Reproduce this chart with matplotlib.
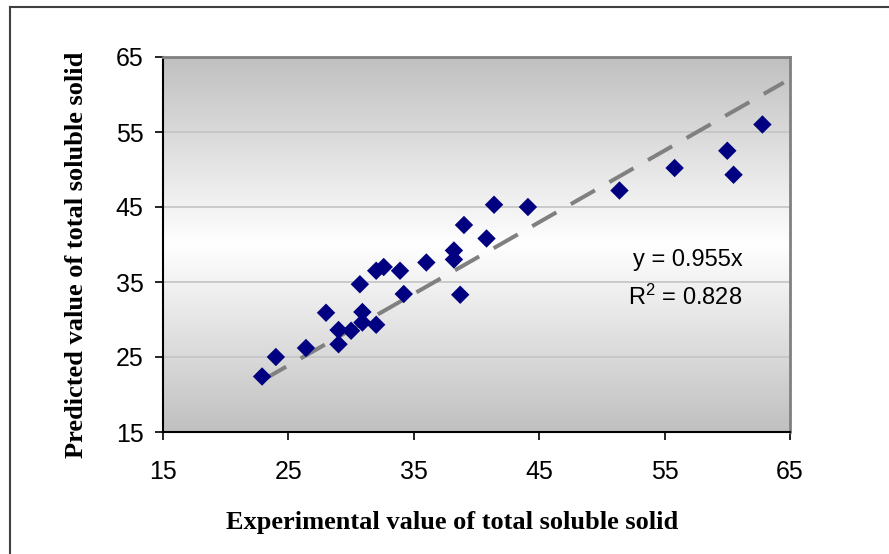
import numpy as np
import matplotlib.pyplot as plt
from matplotlib.lines import Line2D
from matplotlib.colors import LinearSegmentedColormap

# ---- data: experimental vs predicted total soluble solid ----
experimental = [22.9, 24.0, 26.4, 28.0, 29.0, 29.0, 30.0, 30.7, 30.9, 30.9,
                32.0, 32.0, 32.6, 33.9, 34.2, 36.0, 38.2, 38.2, 38.7, 39.0,
                40.8, 41.4, 44.1, 51.4, 55.8, 60.0, 60.5, 62.8]
predicted = [22.4, 25.0, 26.2, 30.9, 28.6, 26.7, 28.5, 34.7, 31.0, 29.6,
             29.3, 36.5, 37.0, 36.5, 33.4, 37.6, 39.2, 38.0, 33.3, 42.6,
             40.8, 45.3, 45.0, 47.2, 50.2, 52.5, 49.3, 56.0]
slope = 0.955
r_squared = 0.828
trend_end = 64.5
ticks = [15, 25, 35, 45, 55, 65]

plt.rcParams['mathtext.fontset'] = 'custom'
plt.rcParams['mathtext.rm'] = 'Liberation Sans'
plt.rcParams['mathtext.it'] = 'Liberation Sans'

fig = plt.figure(figsize=(8.89, 5.54), dpi=100)
ax = fig.add_axes([163/889, 1 - 432/554, 627/889, 375/554])

# gray -> white -> gray background fill
grad = LinearSegmentedColormap.from_list('bg', ['#c0c0c0', '#ffffff', '#c0c0c0'])
ax.imshow(np.linspace(0, 1, 256).reshape(-1, 1), cmap=grad, aspect='auto',
          extent=[15, 65, 15, 65], zorder=0)

for yv in ticks[1:-1]:
   ax.axhline(yv, color='#c4c4c4', lw=1.2, zorder=1)

# fitted line through origin
xs = np.array([min(experimental), trend_end])
lw = 2.9
ax.plot(xs, slope * xs, color='#808080', lw=lw, linestyle=(0, (20/lw, 12/lw)), zorder=2)

ax.scatter(experimental, predicted, marker='D', s=88, color='#000080',
           edgecolors='none', zorder=3)

ax.text(61.2, 37.9, f'y = {slope}x', ha='right', va='center',
        fontsize=17, family='Liberation Sans')
ax.text(61.2, 33.0, f'R$^{{2}}$ = {r_squared}', ha='right', va='center',
        fontsize=17, family='Liberation Sans')

ax.set_xlim(15, 65)
ax.set_ylim(15, 65)
ax.set_xticks(ticks)
ax.set_yticks(ticks)
ax.tick_params(axis='both', direction='out', length=6, width=1.2, color='black',
               labelsize=18)
ax.tick_params(axis='x', pad=14)
ax.tick_params(axis='y', pad=8)
for lab in ax.get_xticklabels() + ax.get_yticklabels():
   lab.set_family('Liberation Sans')

ax.spines['left'].set_color('black')
ax.spines['bottom'].set_color('black')
ax.spines['left'].set_linewidth(1.5)
ax.spines['bottom'].set_linewidth(1.5)
ax.spines['top'].set_color('#808080')
ax.spines['right'].set_color('#808080')
ax.spines['top'].set_linewidth(2)
ax.spines['right'].set_linewidth(2)

fig.text(452/889, 1 - 522/554, 'Experimental value of total soluble solid',
         ha='center', va='center', fontsize=19, fontweight='bold', family='Liberation Serif')
fig.text(77/889, 1 - 255/554, 'Predicted value of total soluble solid', rotation=90,
         ha='center', va='center', fontsize=19, fontweight='bold', family='Liberation Serif')

# chart frame (top and left edges)
fig.add_artist(Line2D([10/889, 1.0], [1 - 7/554] * 2, color='#404040', lw=1.5))
fig.add_artist(Line2D([10/889] * 2, [0, 1 - 7/554], color='#404040', lw=1.5))

fig.savefig('out.png', dpi=100)
